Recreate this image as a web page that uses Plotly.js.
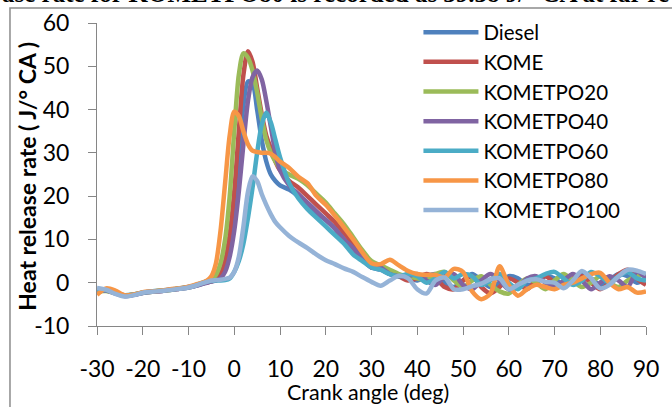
<!DOCTYPE html>
<html>
<head>
<meta charset="utf-8">
<script src="https://cdn.plot.ly/plotly-3.0.1.min.js"></script>
<style>html,body{margin:0;padding:0;background:#fff;}#chart{width:672px;height:407px;}</style>
</head>
<body>
<div id="chart"></div>
<script>
// Crank angle (deg)
const crankAngle = [-30,-28,-26,-24,-22,-20,-18,-16,-14,-12,-10,-8,-6,
  -5,-4,-3,-2,-1,0,1,2,3,4,5,6,7,8,9,10,
  12,14,16,18,20,22,24,26,28,30,32,34,36,38,40,42,44,46,48,50,52,54,56,58,60,62,64,66,68,70,72,74,76,78,80,82,84,86,88,90];

const diesel = [-2.0,-1.7,-2.4,-3.0,-2.8,-2.3,-2.1,-1.9,-1.7,-1.4,-1.1,-0.6,0.1,
  0.3,0.6,1.5,3.5,8,16,28,41,46.5,46,40,33,28,25,23.5,22.5,
  21.5,20,18,16,14.5,12.5,10,8,5.5,3.5,
  3,2,1.5,1,0.5,1.5,2,0,-1,0.5,2,0.5,-1,0,1.5,1,-0.5,0,1.5,1,-0.5,0.5,2,1,-0.5,0.5,2,1.5,0,1];

const kome = [-2.1,-1.8,-2.3,-2.9,-2.8,-2.3,-2.0,-1.9,-1.6,-1.4,-1.0,-0.5,0.1,
  0.3,0.8,2,5,11,21,35,48,53.5,51,45,39,34,31,28,26,
  23.5,22,20,18,16,14,11.5,9,6.5,4,
  3.5,2.5,1.5,0.5,1,2,1,-1,-1.5,0.5,1.5,-1,-2.5,-1,1,0,-1.5,0.5,1.5,0,-1,1,1.5,0,-1.5,0,2,3,1,-0.5];

const kometpo20 = [-2.0,-1.9,-2.4,-3.0,-2.7,-2.3,-2.1,-1.8,-1.7,-1.3,-1.1,-0.5,0.3,
  0.6,1.8,4.5,10,20,35,48,53,52,49,44,38,33,30,28,26.5,
  25,24,22.5,20.5,18.5,16,13.5,10.5,7.5,5,
  4,3,2,1.5,1,0.5,2,2.5,0.5,-1,0.5,1.5,-0.5,-2,-2.5,-0.5,1,0,-1.5,0.5,2,0.5,-1,0,1.5,0,-1,0.5,1.5,2];

const kometpo40 = [-2.1,-1.8,-2.5,-3.1,-2.8,-2.4,-2.1,-1.9,-1.6,-1.4,-1.1,-0.6,0.0,
  0.3,0.5,1,2.5,6,12,21,32,42,47.5,49,47,42,36,30,26,
  22.5,20.5,18.5,16.5,14.5,12.5,10,8,5.5,3.5,
  3.5,2,1.5,1.5,2,0.5,-0.5,1.5,2,-0.5,-1.5,0.5,2,0.5,-1.5,-1,1,1.5,0,-1,0.5,2,0.5,-1.5,0,1.5,0.5,-1,2.5,1];

const kometpo60 = [-2.0,-1.7,-2.3,-2.9,-2.7,-2.3,-2.0,-1.8,-1.6,-1.3,-1.0,-0.4,0.3,
  0.4,0.5,0.5,0.6,1,2.5,5,9,15,22,30,36.5,39.3,37,33,29,
  23,19.5,17,15,13,11,9,6.5,5,3.5,
  3,2,1.5,2,1.5,0,1,2.5,1,2,1.5,-0.5,0.5,2,0,-1.5,0.5,1,2,2.5,1,-0.5,0.5,2.5,1.5,0,1.5,2.5,1,0.5];

const kometpo80 = [-2.8,-1.3,-1.8,-2.9,-2.7,-2.2,-2.0,-1.8,-1.5,-1.3,-0.9,-0.3,0.5,
  1.5,4.5,12,23,34,39.5,38.5,35,32,30.5,30.2,30,30,29.8,29,28,
  26.5,24.5,23,20,18,15.5,12.8,10,7,4.5,
  4.3,5.3,4,2.7,2,1.8,1.8,1.2,3.2,2.5,-2,-3.8,-2.5,3.8,-0.5,-3,-1.5,-0.5,-1,-1.5,-0.5,0,1,2,2.3,0,-1.5,-1,-2.3,-2];

const kometpo100 = [-1.2,-1.6,-2.6,-3.2,-2.9,-2.3,-2.1,-1.9,-1.7,-1.4,-1.1,-0.5,0.2,
  0.5,0.6,0.7,0.9,1.2,2.5,6,13,21,24.6,23.5,20.5,18,15.8,14,12.8,
  10.8,9.3,8,6.5,5.2,4.3,3.3,2.5,1.3,0.2,
  -0.7,0.5,1.6,1,-1.5,-2.5,0.5,1.2,-1.5,-1.5,-0.8,-0.2,0.8,1,-1.5,-0.5,0.5,0.8,0.2,0,-1.3,0.5,2.7,1,-1.3,-0.5,1.5,3,2.8,2];

const seriesNames = ["Diesel","KOME","KOMETPO20","KOMETPO40","KOMETPO60","KOMETPO80","KOMETPO100"];
const seriesValues = [diesel,kome,kometpo20,kometpo40,kometpo60,kometpo80,kometpo100];
const seriesColors = ["#4F81BD","#C0504D","#9BBB59","#8064A2","#4BACC6","#F79646","#95B3D7"];

const xTicks = [-30,-20,-10,0,10,20,30,40,50,60,70,80,90];
const yTicks = [-10,0,10,20,30,40,50,60];

const traces = seriesNames.map((n,i)=>({
  type:'scatter', mode:'lines', name:n, x:crankAngle, y:seriesValues[i],
  line:{color:seriesColors[i], width:4.5, shape:'spline', smoothing:0.8}
}));

const tickFont = {family:'Lato, sans-serif', size:23, color:'#000'};
const layout = {
  width:672, height:407,
  margin:{l:97, r:26, t:23, b:81, pad:0},
  paper_bgcolor:'#fff', plot_bgcolor:'#fff',
  showlegend:true,
  legend:{x:0.5855, y:1.035, xanchor:'left', yanchor:'top', bgcolor:'rgba(0,0,0,0)', maxheight:400,
    font:{family:'Lato, sans-serif', size:20.5, color:'#000'}, itemwidth:55, tracegroupgap:0},
  xaxis:{range:[-30,90], tickvals:xTicks, ticktext:xTicks.map(String), showline:true, linecolor:'#868686', linewidth:1,
    ticks:'outside', ticklen:8, tickcolor:'#868686', tickwidth:1, showgrid:false, zeroline:false,
    tickfont:tickFont, ticklabelstandoff:14},
  yaxis:{range:[-10,60], tickvals:yTicks, ticktext:yTicks.map(String), showline:true, linecolor:'#868686', linewidth:1,
    ticks:'outside', ticklen:8, tickcolor:'#868686', tickwidth:1, showgrid:false, zeroline:false,
    tickfont:tickFont, ticklabelstandoff:14},
  shapes:[{type:'rect', xref:'paper', yref:'paper', x0:-0.1585, x1:1.3, y0:-0.6, y1:1.0495,
    line:{color:'#8c8c8c', width:1.5}, layer:'below'}],
  annotations:[
    {text:'Heat release rate ( J/° CA )', xref:'paper', yref:'paper', x:-0.128, y:0.495, xanchor:'center', yanchor:'middle',
      textangle:-90, showarrow:false, font:{family:'Lato, sans-serif', size:23, color:'#000', weight:700}},
    {text:'Crank angle (deg)', xref:'paper', yref:'paper', x:0.494, y:-0.218, xanchor:'center', yanchor:'middle',
      showarrow:false, font:{family:'Lato, sans-serif', size:21.5, color:'#000'}},
    {text:'ase rate for KOMETPO80 is recorded as 39.38 J/° CA at far re', xref:'paper', yref:'paper', x:-0.1767, y:1.097,
      xanchor:'left', yanchor:'middle', showarrow:false, font:{family:'Liberation Serif, serif', size:25, color:'#000', weight:700}}
  ]
};

Plotly.newPlot('chart', traces, layout, {staticPlot:true, displayModeBar:false});
</script>
</body>
</html>
